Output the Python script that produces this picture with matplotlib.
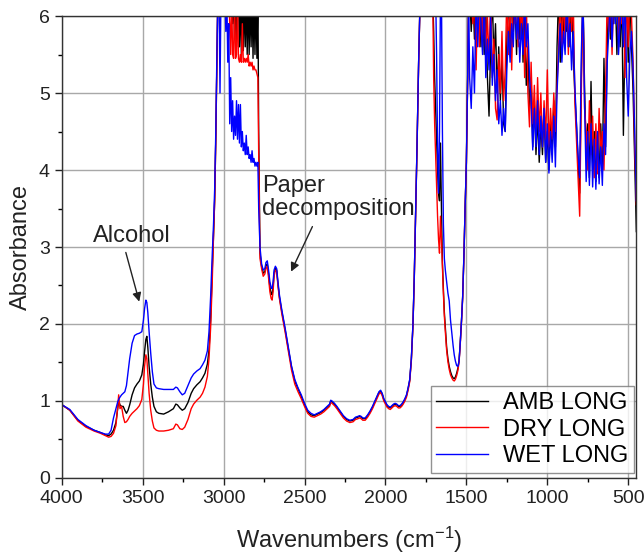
import numpy as np
import matplotlib
matplotlib.use("Agg")
import matplotlib.pyplot as plt
from matplotlib.ticker import MultipleLocator

plt.rcParams['font.family'] = ['Liberation Sans', 'DejaVu Sans']
plt.rcParams['mathtext.fontset'] = 'custom'
plt.rcParams['mathtext.rm'] = 'Liberation Sans'
plt.rcParams['mathtext.it'] = 'Liberation Sans:italic'

series_names = ["AMB LONG", "DRY LONG", "WET LONG"]
series_colors = ["black", "red", "blue"]

# ---- O-H region (4000 -> 3042 cm-1)
wn_oh = [4000, 3998, 3950, 3900, 3850, 3800, 3760, 3730, 3710, 3695,
         3680, 3665, 3655, 3648, 3640, 3630, 3620, 3610, 3600, 3590,
         3580, 3565, 3550, 3535, 3520, 3505, 3495, 3488, 3480, 3474,
         3468, 3460, 3450, 3440, 3430, 3415, 3400, 3370, 3340, 3310,
         3295, 3285, 3270, 3255, 3240, 3220, 3200, 3185, 3165, 3145,
         3130, 3115, 3100, 3090, 3080, 3070, 3062, 3055, 3048, 3042]
amb_oh = [0.0, 0.95, 0.88, 0.75, 0.67, 0.62, 0.59, 0.56, 0.55, 0.57,
          0.62, 0.72, 0.88, 1.00, 0.95, 0.93, 0.93, 0.88, 0.84, 0.88,
          0.95, 1.08, 1.17, 1.22, 1.26, 1.34, 1.48, 1.64, 1.80, 1.84,
          1.70, 1.45, 1.22, 1.05, 0.93, 0.86, 0.84, 0.83, 0.86, 0.90,
          0.96, 0.95, 0.91, 0.88, 0.90, 0.98, 1.10, 1.16, 1.21, 1.25,
          1.30, 1.36, 1.48, 1.66, 2.05, 2.70, 3.15, 3.60, 4.40, 5.30]
dry_oh = [0.0, 0.95, 0.88, 0.74, 0.66, 0.61, 0.58, 0.55, 0.53, 0.54,
          0.58, 0.68, 0.90, 1.08, 0.90, 0.93, 0.80, 0.72, 0.73, 0.76,
          0.80, 0.84, 0.87, 0.90, 0.94, 1.02, 1.22, 1.45, 1.60, 1.55,
          1.35, 1.10, 0.88, 0.74, 0.65, 0.62, 0.61, 0.61, 0.62, 0.64,
          0.70, 0.69, 0.64, 0.63, 0.66, 0.76, 0.90, 0.96, 1.01, 1.05,
          1.10, 1.18, 1.32, 1.55, 1.95, 2.55, 3.15, 3.60, 4.40, 5.30]
wet_oh = [0.0, 0.95, 0.89, 0.76, 0.68, 0.62, 0.59, 0.57, 0.57, 0.62,
          0.78, 0.90, 0.98, 1.02, 1.05, 1.08, 1.10, 1.12, 1.20, 1.38,
          1.55, 1.75, 1.85, 1.87, 1.88, 1.90, 2.05, 2.20, 2.31, 2.28,
          2.15, 1.90, 1.62, 1.38, 1.22, 1.17, 1.16, 1.15, 1.15, 1.15,
          1.18, 1.17, 1.12, 1.08, 1.10, 1.20, 1.30, 1.35, 1.39, 1.42,
          1.47, 1.53, 1.65, 1.90, 2.35, 2.90, 3.30, 3.75, 4.50, 5.40]

# ---- C-H region (3035 -> 2783 cm-1), saturated
wn_ch = [3035, 3028, 3022, 3016, 3010, 3004, 2998, 2992, 2986, 2980,
         2974, 2968, 2962, 2956, 2950, 2944, 2938, 2932, 2926, 2920,
         2914, 2908, 2902, 2896, 2890, 2884, 2878, 2872, 2866, 2860,
         2854, 2848, 2842, 2836, 2830, 2824, 2818, 2812, 2806, 2800,
         2794, 2788, 2783]
amb_ch = [6.3, 6.3, 6.3, 6.3, 6.3, 6.3, 6.3, 6.3, 6.3, 6.3,
          6.3, 6.3, 6.3, 6.3, 6.3, 5.9, 6.3, 5.7, 6.3, 5.6,
          6.3, 6.3, 5.6, 6.3, 5.5, 6.3, 5.55, 6.3, 5.6, 6.3,
          5.5, 6.3, 5.5, 6.3, 5.6, 6.3, 5.45, 6.3, 5.5, 6.3,
          5.45, 6.3, 4.5]
dry_ch = [6.3, 6.3, 6.3, 6.3, 6.3, 6.3, 6.3, 6.3, 6.3, 6.3,
          6.3, 6.3, 5.9, 5.5, 6.3, 5.5, 5.45, 6.3, 5.45, 5.5,
          6.3, 5.45, 5.4, 5.5, 5.4, 5.9, 5.4, 5.45, 5.4, 5.45,
          5.4, 5.5, 5.35, 5.4, 5.35, 5.4, 5.3, 5.35, 5.3, 5.3,
          5.25, 5.2, 4.2]
wet_ch = [6.3, 6.3, 5.0, 6.3, 6.3, 6.3, 6.3, 6.3, 5.8, 6.3,
          5.4, 5.9, 4.6, 5.2, 4.5, 4.9, 4.4, 4.7, 4.45, 4.9,
          4.4, 4.85, 4.35, 4.85, 4.3, 4.5, 4.25, 4.35, 4.2, 4.45,
          4.2, 4.3, 4.15, 4.2, 4.1, 4.25, 4.1, 4.15, 4.05, 4.1,
          4.05, 4.1, 3.5]

# ---- paper decomposition / baseline region (2775 -> 1795 cm-1)
wn_pd = [2775, 2765, 2755, 2745, 2738, 2730, 2722, 2714, 2706, 2700,
         2694, 2688, 2680, 2672, 2664, 2655, 2640, 2620, 2600, 2580,
         2560, 2540, 2520, 2500, 2480, 2460, 2440, 2420, 2400, 2380,
         2360, 2345, 2338, 2330, 2315, 2300, 2280, 2260, 2240, 2220,
         2200, 2185, 2170, 2160, 2150, 2140, 2125, 2110, 2095, 2080,
         2065, 2050, 2040, 2030, 2020, 2010, 2000, 1990, 1980, 1970,
         1960, 1950, 1940, 1930, 1920, 1910, 1900, 1890, 1880, 1870,
         1860, 1850, 1840, 1830, 1822, 1815, 1805, 1795]
amb_pd = [2.92, 2.75, 2.66, 2.68, 2.76, 2.78, 2.65, 2.48, 2.40, 2.38,
          2.48, 2.66, 2.72, 2.70, 2.52, 2.35, 2.16, 1.93, 1.68, 1.44,
          1.26, 1.16, 1.06, 0.95, 0.86, 0.82, 0.81, 0.83, 0.85, 0.88,
          0.92, 0.95, 1.00, 0.99, 0.96, 0.92, 0.86, 0.80, 0.76, 0.74,
          0.75, 0.78, 0.79, 0.80, 0.79, 0.77, 0.77, 0.81, 0.86, 0.92,
          0.99, 1.06, 1.11, 1.13, 1.09, 1.02, 0.98, 0.94, 0.92, 0.91,
          0.93, 0.95, 0.96, 0.95, 0.93, 0.93, 0.95, 0.98, 1.02, 1.07,
          1.16, 1.27, 1.54, 1.99, 2.59, 3.29, 4.29, 5.39]
dry_pd = [2.85, 2.72, 2.62, 2.65, 2.72, 2.75, 2.60, 2.42, 2.33, 2.31,
          2.42, 2.62, 2.70, 2.68, 2.50, 2.33, 2.13, 1.90, 1.65, 1.40,
          1.22, 1.12, 1.03, 0.93, 0.84, 0.80, 0.79, 0.81, 0.83, 0.86,
          0.90, 0.93, 0.98, 0.97, 0.94, 0.90, 0.84, 0.78, 0.74, 0.72,
          0.73, 0.76, 0.77, 0.78, 0.77, 0.75, 0.75, 0.79, 0.84, 0.90,
          0.97, 1.04, 1.09, 1.11, 1.07, 1.00, 0.96, 0.92, 0.90, 0.89,
          0.91, 0.93, 0.94, 0.93, 0.91, 0.91, 0.93, 0.96, 1.00, 1.05,
          1.14, 1.25, 1.52, 1.97, 2.57, 3.27, 4.27, 5.37]
wet_pd = [3.00, 2.78, 2.70, 2.72, 2.80, 2.82, 2.70, 2.55, 2.47, 2.46,
          2.55, 2.70, 2.75, 2.72, 2.55, 2.38, 2.18, 1.95, 1.70, 1.45,
          1.28, 1.17, 1.08, 0.97, 0.88, 0.84, 0.82, 0.84, 0.86, 0.89,
          0.93, 0.96, 1.01, 1.00, 0.97, 0.93, 0.87, 0.81, 0.77, 0.75,
          0.76, 0.79, 0.80, 0.81, 0.80, 0.78, 0.78, 0.82, 0.87, 0.93,
          1.00, 1.07, 1.12, 1.14, 1.10, 1.03, 0.99, 0.95, 0.93, 0.92,
          0.94, 0.96, 0.97, 0.96, 0.94, 0.94, 0.96, 0.99, 1.03, 1.08,
          1.17, 1.28, 1.55, 2.00, 2.60, 3.30, 4.30, 5.40]

# ---- carbonyl / 1600 band (1785 -> 1486 cm-1)
wn_band = [1785, 1770, 1750, 1730, 1715, 1708, 1702, 1696, 1690, 1684,
           1678, 1672, 1666, 1660, 1654, 1648, 1642, 1636, 1630, 1622,
           1614, 1606, 1598, 1590, 1582, 1575, 1568, 1560, 1552, 1545,
           1538, 1530, 1523, 1515, 1508, 1500, 1492, 1486]
amb_band = [6.3, 6.3, 6.3, 6.3, 6.3, 6.3, 5.8, 5.2, 4.8, 4.4,
            4.0, 3.7, 3.6, 4.35, 3.5, 2.8, 2.45, 2.15, 1.95, 1.70,
            1.55, 1.45, 1.38, 1.33, 1.30, 1.29, 1.31, 1.36, 1.43, 1.53,
            1.75, 2.05, 2.35, 2.90, 3.50, 4.10, 5.20, 6.3]
dry_band = [6.3, 6.3, 6.3, 6.3, 6.3, 6.3, 5.2, 4.6, 4.2, 3.8,
            3.4, 3.1, 2.92, 3.4, 3.1, 2.74, 2.40, 2.10, 1.90, 1.66,
            1.51, 1.41, 1.34, 1.30, 1.27, 1.26, 1.28, 1.33, 1.40, 1.51,
            1.73, 2.03, 2.33, 2.88, 3.48, 4.08, 5.18, 6.3]
wet_band = [6.3, 6.3, 6.3, 6.3, 6.3, 6.3, 6.3, 6.3, 6.3, 5.5,
            4.3, 3.7, 4.5, 6.3, 6.3, 4.5, 3.3, 2.85, 2.70, 2.55,
            2.40, 2.30, 2.05, 1.88, 1.72, 1.60, 1.52, 1.46, 1.45, 1.52,
            1.75, 2.05, 2.35, 2.90, 3.50, 4.10, 5.20, 6.3]

# ---- fingerprint region (1480 -> 450 cm-1), near saturation
wn_fp = [1480, 1470, 1460, 1450, 1440, 1430, 1420, 1410, 1400, 1390,
         1380, 1370, 1360, 1350, 1340, 1330, 1320, 1310, 1300, 1290,
         1280, 1270, 1260, 1250, 1240, 1230, 1220, 1210, 1200, 1190,
         1180, 1170, 1160, 1150, 1140, 1130, 1120, 1110, 1100, 1090,
         1080, 1070, 1060, 1050, 1040, 1030, 1020, 1010, 1000, 990,
         980, 970, 960, 950, 940, 930, 920, 910, 900, 890,
         880, 870, 860, 850, 840, 830, 820, 810, 800, 790,
         780, 770, 760, 750, 740, 730, 720, 710, 700, 690,
         680, 670, 660, 650, 640, 630, 620, 610, 600, 590,
         580, 570, 560, 550, 540, 530, 520, 510, 500, 490,
         480, 470, 460, 450]
amb_fp = [6.3, 5.8, 6.3, 5.7, 6.3, 6.0, 6.3, 5.6, 6.3, 5.5,
          6.1, 5.2, 4.7, 5.6, 6.3, 5.4, 5.9, 5.0, 5.6, 4.9,
          5.5, 4.6, 4.5, 5.7, 6.3, 5.6, 6.3, 5.8, 6.3, 5.5,
          6.3, 5.7, 6.3, 5.4, 6.0, 5.1, 5.6, 4.8, 5.2, 4.3,
          4.9, 4.2, 4.7, 4.1, 4.6, 4.2, 4.8, 4.1, 4.5, 4.0,
          4.6, 4.2, 4.9, 4.3, 5.6, 6.3, 5.4, 6.3, 5.7, 6.3,
          5.8, 6.3, 5.6, 6.3, 5.5, 5.0, 4.6, 4.1, 3.7, 5.2,
          6.3, 5.1, 4.2, 4.6, 3.9, 5.15, 4.0, 4.5, 3.85, 4.4,
          3.9, 4.6, 4.0, 5.45, 4.3, 5.6, 6.3, 5.7, 6.3, 5.9,
          6.3, 5.5, 6.3, 5.6, 6.3, 4.45, 5.8, 6.3, 5.4, 6.3,
          5.6, 5.0, 4.1, 3.2]
dry_fp = [6.3, 6.3, 5.9, 6.3, 5.3, 6.3, 5.6, 6.3, 5.7, 6.3,
          5.5, 6.0, 5.4, 6.3, 5.2, 5.7, 4.8, 4.65, 5.5, 5.0,
          5.8, 4.9, 5.3, 6.3, 5.5, 6.3, 5.3, 6.3, 5.9, 6.3,
          5.6, 6.3, 5.7, 6.3, 5.2, 6.3, 5.0, 4.56, 5.4, 4.6,
          5.1, 4.4, 5.2, 4.5, 5.0, 4.3, 4.9, 4.4, 5.3, 4.3,
          4.8, 4.4, 5.0, 4.5, 5.1, 5.6, 6.3, 5.5, 6.3, 5.7,
          6.3, 5.5, 6.3, 5.8, 6.3, 4.9, 4.4, 3.9, 3.4, 5.0,
          6.3, 4.8, 4.5, 4.0, 4.9, 4.2, 4.7, 3.9, 4.6, 3.95,
          4.8, 4.2, 4.5, 4.0, 5.0, 6.3, 5.8, 6.3, 5.5, 6.3,
          6.0, 6.3, 5.7, 6.3, 5.9, 6.3, 5.2, 6.3, 5.6, 6.3,
          6.0, 5.4, 4.3, 3.55]
wet_fp = [5.2, 4.8, 5.6, 5.0, 6.3, 5.6, 6.3, 5.9, 5.5, 6.3,
          5.2, 5.7, 5.3, 6.0, 5.1, 5.5, 4.9, 5.3, 4.6, 4.9,
          4.45, 4.8, 4.5, 5.3, 5.8, 5.4, 5.9, 5.6, 6.3, 5.7,
          6.0, 5.4, 5.9, 5.5, 6.3, 5.6, 5.9, 5.2, 4.9, 4.26,
          4.8, 4.3, 4.9, 4.2, 4.7, 4.3, 4.8, 4.1, 4.6, 3.96,
          4.5, 4.1, 4.7, 4.04, 5.0, 5.5, 5.9, 5.4, 5.8, 5.5,
          6.3, 5.6, 5.9, 5.3, 5.8, 5.1, 4.6, 4.2, 3.9, 5.5,
          6.3, 4.9, 3.85, 4.5, 3.8, 4.6, 3.78, 4.4, 3.75, 4.5,
          3.82, 4.3, 3.8, 4.6, 4.2, 5.4, 5.8, 6.3, 5.6, 6.3,
          5.9, 6.3, 5.5, 5.9, 6.3, 5.6, 6.3, 5.2, 4.7, 5.5,
          5.8, 5.3, 4.5, 3.6]

wavenumber = wn_oh + wn_ch + wn_pd + wn_band + wn_fp
amb = amb_oh + amb_ch + amb_pd + amb_band + amb_fp
dry = dry_oh + dry_ch + dry_pd + dry_band + dry_fp
wet = wet_oh + wet_ch + wet_pd + wet_band + wet_fp

x_ticks = [4000, 3500, 3000, 2500, 2000, 1500, 1000, 500]
y_ticks = [0, 1, 2, 3, 4, 5, 6]

fig = plt.figure(figsize=(6.44, 5.54), dpi=100)
ax = fig.add_axes([0.0958, 0.1372, 0.8918, 0.8339])

for y, name, col in zip([amb, dry, wet], series_names, series_colors):
    ax.plot(wavenumber, y, color=col, lw=1.0, label=name)

ax.set_xlim(4000, 452)
ax.set_ylim(0, 6)
ax.set_xticks(x_ticks)
ax.set_yticks(y_ticks)
ax.xaxis.set_minor_locator(MultipleLocator(250))
ax.yaxis.set_minor_locator(MultipleLocator(0.5))
ax.tick_params(which='major', direction='out', length=5, width=1, labelsize=14, colors='#222222')
ax.tick_params(which='minor', direction='out', length=3, width=1)
ax.grid(True, which='major', color='#a8a8a8', lw=1.0)
ax.set_axisbelow(True)
for s in ax.spines.values():
    s.set_linewidth(1.0)
    s.set_color('#333333')

ax.set_xlabel(r"Wavenumbers (cm$^{\mathrm{-1}}$)", fontsize=17, labelpad=13, color='#222222')
ax.set_ylabel("Absorbance", fontsize=17, labelpad=5, color='#222222')

ax.annotate("Alcohol", xy=(3521, 2.29), xytext=(3565, 3.0),
            fontsize=17, ha='center', va='bottom', color='#222222',
            arrowprops=dict(arrowstyle='-|>', color='#222222', lw=1.0,
                            mutation_scale=13, shrinkA=2, shrinkB=0,
                            relpos=(0.4, 0.0)))
ax.annotate("Paper\ndecomposition", xy=(2583, 2.68), xytext=(2762, 3.35),
            fontsize=17, ha='left', va='bottom', color='#222222',
            linespacing=1.05,
            arrowprops=dict(arrowstyle='-|>', color='#222222', lw=1.0,
                            mutation_scale=13, shrinkA=3, shrinkB=0,
                            relpos=(0.35, 0.0)))

leg = ax.legend(loc='lower right', bbox_to_anchor=(0.996, 0.01), fontsize=17,
                frameon=True, fancybox=False, edgecolor='#777777',
                handlelength=2.2, handletextpad=0.6, borderaxespad=0,
                labelspacing=0.2, borderpad=0.25)
leg.get_frame().set_linewidth(1.0)

fig.savefig("out.png", dpi=100)
